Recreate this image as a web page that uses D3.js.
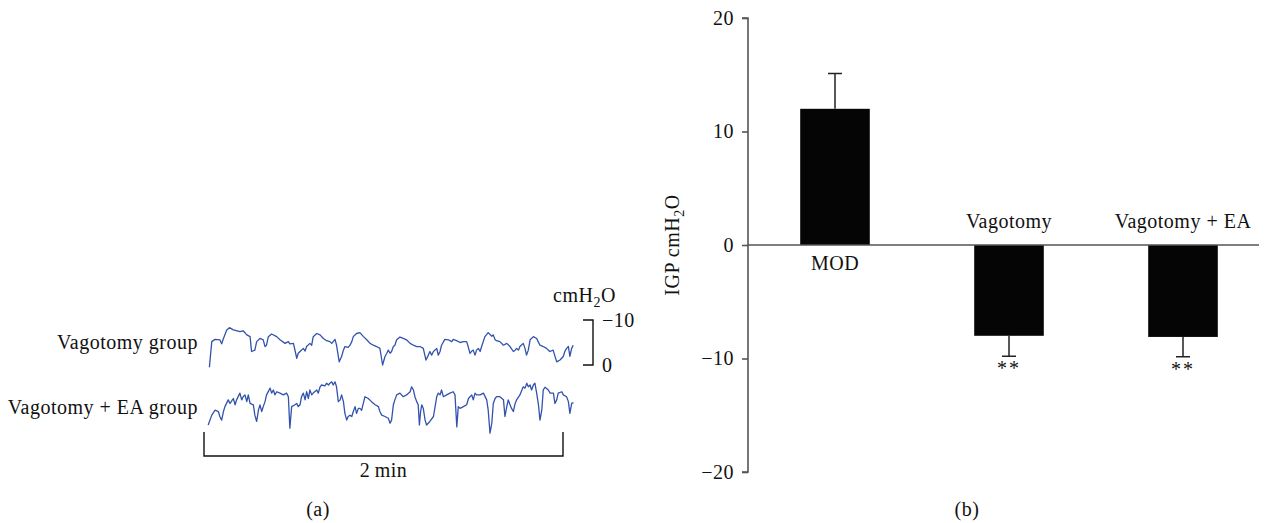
<!DOCTYPE html>
<html>
<head>
<meta charset="utf-8">
<script src="https://cdn.jsdelivr.net/npm/d3@7"></script>
<style>
  body { margin: 0; background: #fff; }
  svg text { font-family: "Liberation Serif", "Times New Roman", serif; fill: #111; letter-spacing: 0.5px; }
</style>
</head>
<body>
<div class="figure"></div>
<script>
// ---- panel (a): pressure traces, time in s, pressure in cmH2O ----
var traceVagT = [1.8,2.6,3.7,5.3,5.9,6.5,7.6,8.5,9.8,12.0,13.1,14.3,15.4,15.9,17.0,17.6,18.7,19.8,20.4,20.9,21.5,22.6,24.3,25.4,27.1,28.2,28.7,29.9,31.0,31.5,32.1,33.2,33.8,34.3,35.4,36.0,36.5,37.7,38.8,39.9,41.0,42.1,42.7,43.8,44.3,45.2,46.0,46.6,47.1,48.2,48.8,49.4,49.9,51.0,52.1,53.3,54.4,55.5,56.6,57.7,58.8,59.7,60.5,61.1,61.6,62.2,62.7,63.3,63.8,64.4,65.5,66.6,67.7,68.9,70.0,71.1,72.2,73.3,74.2,75.0,75.5,76.1,76.7,77.8,78.3,78.9,79.4,80.5,81.7,82.8,83.3,84.4,85.6,86.7,87.8,88.3,88.9,89.5,90.0,90.6,91.1,91.7,92.3,92.8,93.9,95.0,96.2,96.7,97.3,97.8,98.9,100.1,101.2,102.3,103.4,104.0,104.5,105.1,105.6,106.7,107.3,107.8,108.4,109.0,110.1,111.2,111.7,112.3,113.4,114.5,115.6,116.7,117.9,119.0,120.1,120.6,121.2,121.8,122.3,122.9,123.4]
var traceVagP = [0.5,-5.2,-5.7,-5.6,-4.7,-5.9,-7.8,-8.3,-7.8,-7.4,-7.6,-6.7,-6.3,-3.0,-3.3,-5.2,-5.9,-5.6,-4.1,-4.4,-6.3,-6.9,-6.3,-5.6,-4.8,-5.2,-4.7,-4.8,-1.5,-2.6,-3.0,-3.7,-3.1,-4.1,-4.8,-4.4,-6.3,-7.0,-6.7,-5.9,-5.4,-5.2,-4.8,-5.7,-4.4,-0.7,-1.9,-3.3,-4.1,-3.9,-4.4,-5.2,-6.3,-7.0,-7.2,-6.3,-5.6,-4.8,-4.4,-4.1,-3.7,0.0,-1.9,-2.6,-3.3,-2.6,-3.0,-4.1,-4.4,-5.6,-6.2,-5.9,-5.6,-4.8,-4.4,-4.1,-4.1,-3.7,-1.1,-2.2,-3.0,-2.2,-3.0,-3.7,-2.2,-3.0,-4.4,-5.7,-5.6,-5.2,-5.7,-5.4,-5.0,-5.2,-5.2,-4.1,-2.6,-3.1,-3.3,-2.2,-3.3,-3.7,-3.0,-4.1,-6.3,-7.2,-6.4,-6.7,-5.6,-5.4,-5.2,-4.4,-4.8,-4.1,-3.0,-3.3,-3.7,-3.3,-4.1,-4.8,-3.7,-2.2,-3.3,-5.6,-6.3,-5.9,-5.2,-4.4,-4.1,-3.7,-3.0,-3.3,-0.7,-1.1,-1.9,-3.0,-3.7,-4.1,-1.9,-3.7,-4.4]

var traceEaT = [1.4,2.6,3.7,4.8,5.3,5.9,6.5,7.0,8.1,8.7,9.8,10.4,10.9,12.0,12.6,13.1,13.7,14.3,14.8,15.4,16.5,17.0,17.6,18.2,18.7,19.3,19.8,20.4,20.9,22.1,22.6,23.2,23.7,24.3,25.4,26.5,27.6,28.2,28.7,29.3,30.4,31.0,31.5,32.1,32.6,33.2,33.8,34.3,34.9,35.4,36.0,36.5,37.7,38.2,38.8,39.3,40.4,41.0,41.6,42.1,42.7,43.2,43.8,44.3,44.9,45.5,46.0,46.6,47.1,47.7,48.2,48.8,49.4,49.9,50.5,51.0,51.6,52.1,52.7,53.8,54.9,56.0,57.2,58.3,58.8,59.4,60.5,61.6,62.2,62.7,63.3,63.8,64.4,65.5,66.6,67.7,68.9,69.4,70.0,70.5,71.1,71.6,72.0,72.4,72.8,73.3,73.9,74.4,75.5,76.7,77.8,78.3,78.9,79.4,80.0,81.1,82.2,83.3,83.9,84.5,85.0,85.6,86.7,87.8,88.4,89.5,90.0,90.6,91.1,92.3,93.4,94.5,95.0,95.6,96.2,96.7,97.3,97.8,98.9,100.1,100.6,101.2,101.7,102.3,102.8,103.4,104.0,104.5,105.6,106.7,107.3,107.9,108.4,109.0,109.5,110.1,110.6,111.2,111.8,112.3,112.9,113.4,114.0,115.1,115.7,116.8,117.3,117.9,118.4,119.6,120.1,121.2,121.8,122.3,122.9,123.5]
var traceEaP = [-1.1,-3.3,-4.4,-4.1,-3.0,-2.2,-4.1,-5.2,-6.7,-5.9,-7.0,-5.6,-6.7,-8.2,-6.7,-7.4,-7.8,-6.3,-7.8,-5.9,-5.6,-3.3,-1.9,-4.4,-5.6,-4.1,-5.2,-6.3,-7.8,-9.3,-8.2,-8.9,-7.8,-8.5,-8.2,-7.8,-8.2,-7.4,-0.4,-5.2,-5.6,-5.9,-5.2,-5.6,-7.4,-8.2,-6.7,-8.5,-7.0,-8.9,-7.8,-8.2,-8.9,-8.2,-9.6,-10.0,-9.8,-10.4,-10.0,-10.4,-10.7,-10.0,-10.7,-9.6,-6.3,-6.7,-7.8,-6.3,-3.7,-2.2,-3.0,-3.3,-3.0,-4.1,-5.2,-3.7,-4.8,-4.8,-4.4,-7.4,-7.0,-6.3,-5.6,-5.2,-4.1,-3.3,-3.0,-2.6,-1.5,-2.2,-5.6,-6.7,-7.8,-8.2,-7.4,-7.8,-8.5,-9.6,-8.9,-7.4,-6.3,-5.6,-1.1,-4.1,-5.6,-4.8,-2.2,-1.1,-1.9,-3.0,-7.4,-8.2,-7.8,-8.9,-7.4,-7.8,-8.2,-8.5,-7.8,-0.7,-5.2,-4.8,-5.2,-5.6,-7.0,-7.8,-6.7,-8.2,-7.8,-7.8,-8.2,-6.7,-4.4,0.7,-1.5,-5.9,-7.0,-7.4,-7.4,-6.7,-3.0,-5.2,-6.7,-5.6,-4.8,-4.1,-5.9,-6.7,-7.8,-9.6,-9.3,-10.4,-9.6,-10.0,-8.9,-10.0,-10.4,-8.2,-5.6,-2.2,-4.4,-8.9,-9.5,-8.9,-8.2,-8.2,-5.9,-6.7,-8.2,-8.5,-7.8,-7.4,-6.3,-3.7,-5.9,-6.1]

var traceLabels = ['Vagotomy group', 'Vagotomy + EA group']
var pressureTicks = [-10, 0]

// ---- panel (b): bar chart ----
var groups = ['MOD', 'Vagotomy', 'Vagotomy + EA']
var igpMean = [12.0, -8.0, -8.1]
var igpErr = [3.1, 1.8, 1.75]
var igpMarks = ['', '**', '**']
var yTicks = [-20, -10, 0, 10, 20]

var W = 1268, H = 523
var traceColor = '#3253ad'
var fs = '20px'

var svg = d3.select('.figure').append('svg')
    .attr('width', W)
    .attr('height', H)

// ================= panel (a) =================
var tScale = d3.scaleLinear().domain([0, 120]).range([204, 563])
// each trace gets its own baseline, same px per cmH2O
var pScales = [
    d3.scaleLinear().domain([0, -10]).range([365, 320]),
    d3.scaleLinear().domain([0, -10]).range([430, 385])
]

var traces = [
    traceVagT.map((t, i) => ({ t: t, p: traceVagP[i] })),
    traceEaT.map((t, i) => ({ t: t, p: traceEaP[i] }))
]

var ga = svg.append('g').attr('class', 'panel-a')

traces.forEach((d, k) => {
    var line = d3.line()
        .x(e => tScale(e.t))
        .y(e => pScales[k](e.p))
    ga.append('path')
        .datum(d)
        .attr('d', line)
        .attr('fill', 'none')
        .attr('stroke', traceColor)
        .attr('stroke-width', 1.3)
        .attr('stroke-linejoin', 'round')
})

// group labels, right aligned left of traces
ga.selectAll('.tlabel')
    .data(traceLabels)
    .enter()
    .append('text')
    .attr('class', 'tlabel')
    .attr('x', 198)
    .attr('y', (d, i) => pScales[i](-5) + 6)
    .attr('text-anchor', 'end')
    .style('font-size', fs)
    .text(d => d)

// pressure scale bracket
var bx = 593
var pBar = pScales[0]
ga.append('path')
    .attr('d', `M${bx - 10},${pBar(-10)}H${bx}V${pBar(0)}H${bx - 10}`)
    .attr('fill', 'none')
    .attr('stroke', '#111')
    .attr('stroke-width', 1.4)
ga.selectAll('.ptick')
    .data(pressureTicks)
    .enter()
    .append('text')
    .attr('class', 'ptick')
    .attr('x', bx + 9)
    .attr('y', d => pBar(d) + 7)
    .style('font-size', fs)
    .text(d => d < 0 ? '\u2212' + Math.abs(d) : d)
var unitA = ga.append('text')
    .attr('x', 553)
    .attr('y', 302)
    .style('font-size', fs)
unitA.append('tspan').text('cmH')
unitA.append('tspan').attr('dy', 5).style('font-size', '14px').text('2')
unitA.append('tspan').attr('dy', -5).text('O')

// 2 min time bar
var tb0 = tScale(0), tb1 = tScale(120), tbY = 456
ga.append('path')
    .attr('d', `M${tb0},${tbY - 24}V${tbY}H${tb1}V${tbY - 24}`)
    .attr('fill', 'none')
    .attr('stroke', '#111')
    .attr('stroke-width', 1.4)
ga.append('text')
    .attr('x', (tb0 + tb1) / 2)
    .attr('y', 477)
    .attr('text-anchor', 'middle')
    .style('font-size', fs)
    .text('2\u2009min')

ga.append('text')
    .attr('x', 318)
    .attr('y', 516)
    .attr('text-anchor', 'middle')
    .style('font-size', fs)
    .text('(a)')

// ================= panel (b) =================
var axisX = 748
var yScale = d3.scaleLinear().domain([-20, 20]).range([472, 18])
var xScale = d3.scaleBand()
    .domain(groups)
    .range([axisX, 1270])
    .paddingInner(0.6)
    .paddingOuter(0.3)

var gb = svg.append('g').attr('class', 'panel-b')

var yAxis = d3.axisLeft(yScale)
    .tickValues(yTicks)
    .tickSize(6)
    .tickPadding(8)
    .tickFormat(d => d < 0 ? '\u2212' + Math.abs(d) : d)

var gy = gb.append('g')
    .attr('class', 'y axis')
    .attr('transform', `translate(${axisX},0)`)
    .call(yAxis)
gy.select('.domain').attr('stroke', '#555').attr('stroke-width', 1.6)
    .attr('d', `M-6,${yScale(20)}H0V${yScale(-20)}H-6`)
gy.selectAll('.tick line').attr('stroke', '#555').attr('stroke-width', 1.6)
gy.selectAll('.tick text')
    .style('font-size', fs)
    .style('font-family', '"Liberation Serif", "Times New Roman", serif')
    .attr('fill', '#111')

// bars
gb.selectAll('.bar')
    .data(groups)
    .enter()
    .append('rect')
    .attr('class', 'bar')
    .attr('x', d => xScale(d))
    .attr('width', xScale.bandwidth())
    .attr('y', (d, i) => yScale(Math.max(0, igpMean[i])))
    .attr('height', (d, i) => Math.abs(yScale(igpMean[i]) - yScale(0)))
    .attr('fill', '#050505')

// error bars (one sided, away from zero)
var cap = 7
groups.forEach((g, i) => {
    var cx = xScale(g) + xScale.bandwidth() / 2
    var sign = igpMean[i] >= 0 ? 1 : -1
    var y0 = yScale(igpMean[i])
    var y1 = yScale(igpMean[i] + sign * igpErr[i])
    gb.append('path')
        .attr('d', `M${cx},${y0}V${y1}M${cx - cap},${y1}H${cx + cap}`)
        .attr('fill', 'none')
        .attr('stroke', '#222')
        .attr('stroke-width', 1.5)
    if (igpMarks[i]) {
        gb.append('text')
            .attr('x', cx)
            .attr('y', y1 + 19)
            .attr('text-anchor', 'middle')
            .style('font-size', fs)
            .style('letter-spacing', '2px')
            .text(igpMarks[i])
    }
})

// zero line
gb.append('line')
    .attr('x1', axisX)
    .attr('x2', 1259)
    .attr('y1', yScale(0))
    .attr('y2', yScale(0))
    .attr('stroke', '#555')
    .attr('stroke-width', 1.6)

// group labels: below zero for positive bar, above for negative
gb.selectAll('.glabel')
    .data(groups)
    .enter()
    .append('text')
    .attr('class', 'glabel')
    .attr('x', d => xScale(d) + xScale.bandwidth() / 2)
    .attr('y', (d, i) => igpMean[i] >= 0 ? yScale(0) + 25 : yScale(0) - 17)
    .attr('text-anchor', 'middle')
    .style('font-size', fs)
    .text(d => d)

// y label
var ylab = gb.append('text')
    .attr('transform', `translate(679,${yScale(0)}) rotate(-90)`)
    .attr('text-anchor', 'middle')
    .style('font-size', fs)
ylab.append('tspan').text('IGP cmH')
ylab.append('tspan').attr('dy', 5).style('font-size', '14px').text('2')
ylab.append('tspan').attr('dy', -5).text('O')

gb.append('text')
    .attr('x', 967)
    .attr('y', 516)
    .attr('text-anchor', 'middle')
    .style('font-size', fs)
    .text('(b)')
</script>
</body>
</html>
